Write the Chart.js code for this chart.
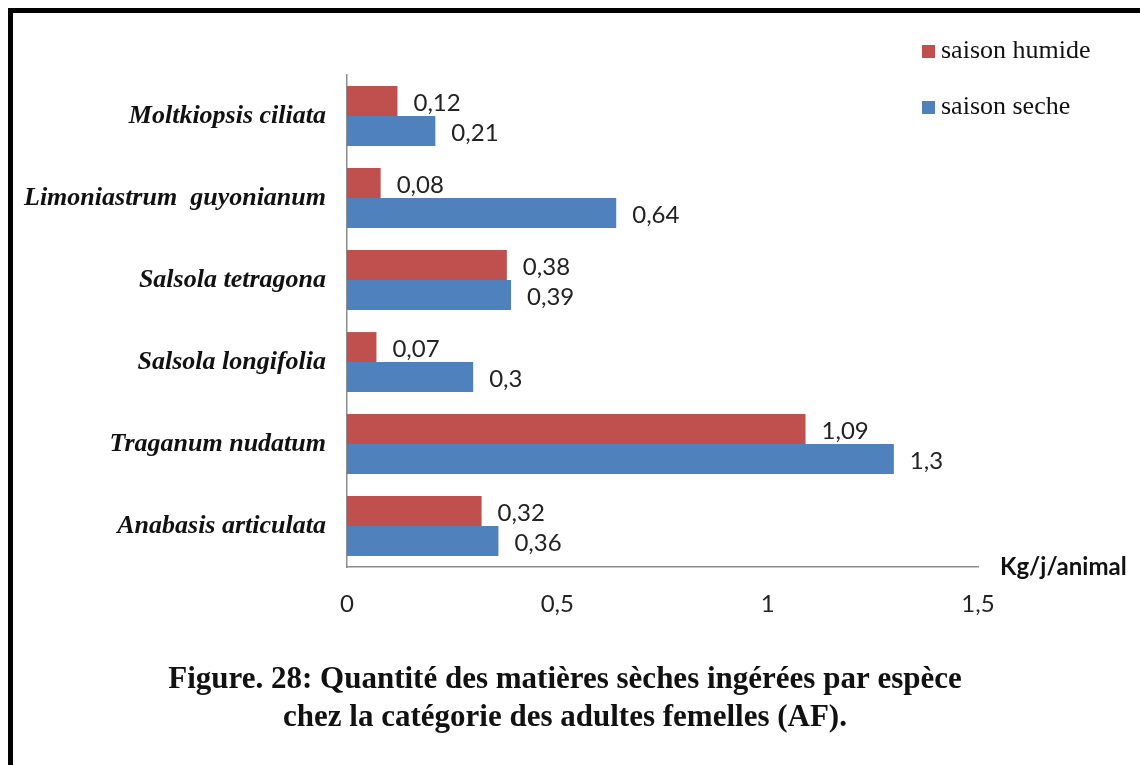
<!DOCTYPE html>
<html>
<head>
<meta charset="utf-8">
<script src="https://cdn.jsdelivr.net/npm/chart.js@4.4.1/dist/chart.umd.min.js"></script>
<style>
  html, body { margin: 0; padding: 0; background: #fff; overflow: hidden; }
  #frame {
    position: absolute; left: 8px; top: 8px; width: 1200px; height: 900px;
    border: 5px solid #000; box-sizing: border-box;
  }
  #wrap { position: absolute; left: 0; top: 0; width: 1140px; height: 765px; }
</style>
</head>
<body>
<div id="frame"></div>
<div id="wrap"><canvas id="chart" width="1140" height="765"></canvas></div>
<script>
// categories, top to bottom as shown
const species = [
  'Moltkiopsis ciliata',
  'Limoniastrum  guyonianum',
  'Salsola tetragona',
  'Salsola longifolia',
  'Traganum nudatum',
  'Anabasis articulata'
];
const saisonHumide = [0.12, 0.08, 0.38, 0.07, 1.09, 0.32];
const saisonSeche = [0.21, 0.64, 0.39, 0.3, 1.3, 0.36];
const xTicks = [0, 0.5, 1, 1.5];
const seriesNames = ['saison humide', 'saison seche'];
const unitLabel = 'Kg/j/animal';
const titleLines = [
  'Figure. 28: Quantité des matières sèches ingérées par espèce',
  'chez la catégorie des adultes femelles (AF).'
];

const RED = '#C0504D';
const BLUE = '#4F81BD';
const fmt = v => String(v).replace('.', ',');

// value labels at the end of each bar
const valueLabels = {
  id: 'valueLabels',
  afterDatasetsDraw(chart) {
    const ctx = chart.ctx;
    ctx.save();
    ctx.font = '24px Lato, "Open Sans", sans-serif';
    ctx.fillStyle = '#222';
    ctx.textBaseline = 'middle';
    ctx.textAlign = 'left';
    chart.data.datasets.forEach((ds, i) => {
      chart.getDatasetMeta(i).data.forEach((bar, j) => {
        ctx.fillText(fmt(ds.data[j]), bar.x + 16, bar.y + 2);
      });
    });
    ctx.restore();
  }
};

// legend in the top right corner + unit label at the axis end
const extras = {
  id: 'extras',
  afterDraw(chart) {
    const ctx = chart.ctx;
    ctx.save();
    ctx.textBaseline = 'middle';
    ctx.textAlign = 'left';
    ctx.font = '26px "Liberation Serif", "Times New Roman", serif';
    chart.data.datasets.forEach((ds, i) => {
      const y = 51 + i * 56;
      ctx.fillStyle = ds.backgroundColor;
      ctx.fillRect(922, y - 6, 13, 13);
      ctx.fillStyle = '#111';
      ctx.fillText(ds.label, 941, y);
    });
    ctx.font = 'bold 24px Lato, "Open Sans", sans-serif';
    ctx.fillStyle = '#111';
    ctx.fillText(unitLabel, 1000, chart.chartArea.bottom);
    ctx.restore();
  }
};

new Chart(document.getElementById('chart'), {
  type: 'bar',
  data: {
    labels: species,
    datasets: [
      { label: seriesNames[0], data: saisonHumide, backgroundColor: RED, borderWidth: 0 },
      { label: seriesNames[1], data: saisonSeche, backgroundColor: BLUE, borderWidth: 0 }
    ]
  },
  options: {
    indexAxis: 'y',
    responsive: false,
    animation: false,
    datasets: { bar: { categoryPercentage: 0.73, barPercentage: 1 } },
    layout: { padding: { left: 0, right: 10, top: 75, bottom: 0 } },
    plugins: {
      legend: { display: false },
      tooltip: { enabled: false },
      title: {
        display: true,
        position: 'bottom',
        text: titleLines,
        color: '#111',
        font: { family: '"Liberation Serif", "Times New Roman", serif', size: 31, weight: 'bold', lineHeight: '38px' },
        padding: { top: 34, bottom: 28 }
      }
    },
    scales: {
      x: {
        min: 0,
        max: 1.5,
        afterBuildTicks: s => { s.ticks = xTicks.map(v => ({ value: v })); },
        afterFit: s => { s.height = 60; },
        grid: { display: false, drawTicks: false },
        border: { display: true, color: '#8C8C8C', width: 1.5 },
        ticks: {
          padding: 23,
          color: '#222',
          font: { family: 'Lato, "Open Sans", sans-serif', size: 24 },
          callback: v => fmt(v)
        }
      },
      y: {
        afterFit: s => { s.width = 347; },
        grid: { display: false, drawTicks: false },
        border: { display: true, color: '#8C8C8C', width: 1.5 },
        ticks: {
          padding: 21,
          color: '#111',
          font: { family: '"Liberation Serif", "Times New Roman", serif', size: 26, weight: 'bold', style: 'italic' }
        }
      },
      // empty spacer on the right, keeps the plot narrow while the title spans the page
      spacer: {
        type: 'linear',
        position: 'right',
        ticks: { display: false },
        grid: { display: false, drawTicks: false },
        border: { display: false },
        afterFit: s => { s.width = 152; }
      }
    }
  },
  plugins: [valueLabels, extras]
});
</script>
</body>
</html>
